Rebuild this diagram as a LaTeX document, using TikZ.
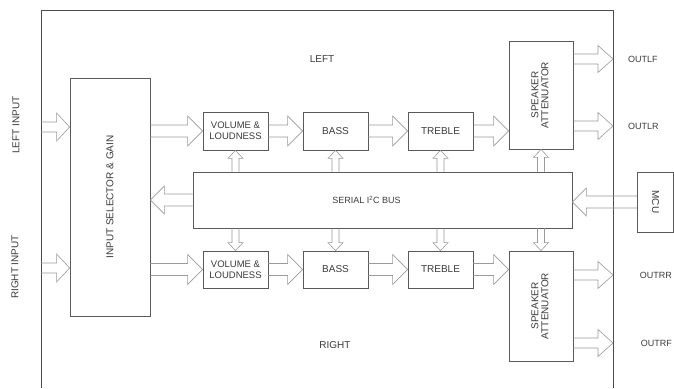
\documentclass[tikz,border=0pt]{standalone}
\usepackage{fontspec}
\setmainfont{Liberation Sans}
\usepackage{graphicx}
\usepackage{xcolor}
\usepackage{tikz}
\usetikzlibrary{calc, positioning}
\definecolor{inkgray}{HTML}{3A3A3A}
\definecolor{boxgray}{HTML}{5A5A5A}
\definecolor{arrgray}{HTML}{9A9A9A}
\tikzstyle{block} = [draw=boxgray, line width=0.8pt, inner sep=1pt, align=center, text=inkgray]
\tikzstyle{lbl} = [text=inkgray, inner sep=0pt]
% hollow block arrow: {shaft half width}{head half width}{head length}
\tikzset{
  hollow/.style n args={3}{draw=arrgray, line width=0.6pt, to path={
    let \p1=(\tikztostart), \p2=(\tikztotarget), \n1={atan2(\y2-\y1,\x2-\x1)} in
    ($(\p1)+(\n1+90:#1)$) -- ($(\p2)+(\n1+180:#3)+(\n1+90:#1)$)
    -- ($(\p2)+(\n1+180:#3)+(\n1+90:#2)$) -- (\p2)
    -- ($(\p2)+(\n1+180:#3)+(\n1-90:#2)$) -- ($(\p2)+(\n1+180:#3)+(\n1-90:#1)$)
    -- ($(\p1)+(\n1-90:#1)$)}},
  signal/.style={hollow={6pt}{15pt}{15pt}},
  inarrow/.style={hollow={5pt}{14pt}{13pt}},
  outarrow/.style={hollow={5pt}{13.5pt}{15pt}},
  ctrl/.style={hollow={6pt}{14pt}{14pt}},
  buslink/.style={hollow={3.5pt}{7.5pt}{8pt}}
}

\begin{document}
\begin{tikzpicture}[x=1pt, y=-1pt, font=\fontsize{10}{12}\selectfont]
    \useasboundingbox (0,0) rectangle (674,388);

    % Chip outline (open at the bottom)
    \draw[black!70, line width=1pt] (41,388) -- (41,10) -- (613,10) -- (613,388);
    \coordinate (fl) at (41,0);
    \coordinate (fr) at (613,0);

    % Blocks
    \node[block, minimum width=80pt, minimum height=238pt] (sel) at (110,197) {\rotatebox{90}{INPUT SELECTOR \& GAIN}};
    \node[block, minimum width=379pt, minimum height=56pt, font=\fontsize{9}{11}\selectfont] (bus) at (382.5,200) {SERIAL I\textsuperscript{2}C BUS\hspace*{32pt}};
    \node[block, minimum width=36pt, minimum height=60pt] (mcu) at (655.5,202) {\rotatebox{-90}{MCU}};

    % Left channel
    \node[block, minimum width=65pt, minimum height=38pt, font=\fontsize{9.5}{11}\selectfont] (vl) at (235.5,131) {VOLUME \&\\LOUDNESS};
    \node[block, minimum width=65pt, minimum height=38pt] (bl) at (335.5,131) {BASS};
    \node[block, minimum width=65pt, minimum height=38pt] (tl) at (440.5,131) {TREBLE};
    \node[block, minimum width=64pt, minimum height=108pt] (spl) at (541,95) {\rotatebox{90}{\begin{tabular}{@{}c@{}}SPEAKER\\[-2pt]ATTENUATOR\end{tabular}}};

    % Right channel
    \node[block, minimum width=65pt, minimum height=37pt, font=\fontsize{9.5}{11}\selectfont] (vr) at (235.5,269.5) {VOLUME \&\\LOUDNESS};
    \node[block, minimum width=65pt, minimum height=37pt] (br) at (335.5,269.5) {BASS};
    \node[block, minimum width=65pt, minimum height=37pt] (tr) at (440.5,269.5) {TREBLE};
    \node[block, minimum width=64pt, minimum height=110pt] (spr) at (541,306) {\rotatebox{90}{\begin{tabular}{@{}c@{}}SPEAKER\\[-2pt]ATTENUATOR\end{tabular}}};

    % Labels
    \node[lbl] (left) at (322,59) {LEFT};
    \node[lbl] (right) at (335,345) {RIGHT};
    \node[lbl, rotate=90] (lin) at (16,125) {LEFT INPUT};
    \node[lbl, rotate=90] (rin) at (15,267) {RIGHT INPUT};
    \node[lbl, anchor=west, font=\fontsize{9}{11}\selectfont] (outlf) at (628,59) {OUTLF};
    \node[lbl, anchor=west, font=\fontsize{9}{11}\selectfont] (outlr) at (628,126) {OUTLR};
    \node[lbl, anchor=east, font=\fontsize{9}{11}\selectfont] (outrr) at (672,275) {OUTRR};
    \node[lbl, anchor=east, font=\fontsize{9}{11}\selectfont] (outrf) at (672,343) {OUTRF};

    % Inputs
    \draw[inarrow] (fl |- 0,127) to (sel.west |- 0,127);
    \draw[inarrow] (fl |- 0,268) to (sel.west |- 0,268);

    % Signal path
    \draw[signal] (sel.east |- vl) to (vl.west);
    \draw[signal] (vl.east) to (bl.west);
    \draw[signal] (bl.east) to (tl.west);
    \draw[signal] (tl.east) to (tl.east -| spl.west);
    \draw[signal] (sel.east |- vr) to (vr.west);
    \draw[signal] (vr.east) to (br.west);
    \draw[signal] (br.east) to (tr.west);
    \draw[signal] (tr.east) to (tr.east -| spr.west);

    % Outputs
    \draw[outarrow] (spl.east |- outlf) to (fr |- outlf);
    \draw[outarrow] (spl.east |- outlr) to (fr |- outlr);
    \draw[outarrow] (spr.east |- outrr) to (fr |- outrr);
    \draw[outarrow] (spr.east |- outrf) to (fr |- outrf);

    % Control bus
    \draw[ctrl] (bus.west) to (sel.east |- bus.west);
    \draw[ctrl] (mcu.west) to (bus.east |- mcu.west);
    \foreach \b in {vl,bl,tl,spl} \draw[buslink] (bus.north -| \b) to (\b.south);
    \foreach \b in {vr,br,tr,spr} \draw[buslink] (bus.south -| \b) to (\b.north);
\end{tikzpicture}
\end{document}
